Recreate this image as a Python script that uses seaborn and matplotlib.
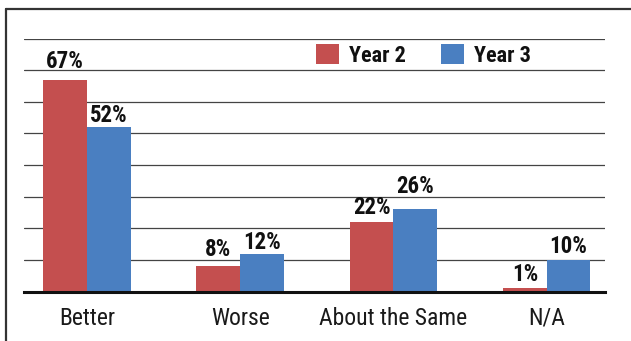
import matplotlib
matplotlib.use("Agg")
import matplotlib.pyplot as plt
from matplotlib.lines import Line2D
import seaborn as sns
import pandas as pd

categories = ["Better", "Worse", "About the Same", "N/A"]
year2 = [67, 8, 22, 1]
year3 = [52, 12, 26, 10]
series = ["Year 2", "Year 3"]
colors = ["#C44F4F", "#4A7FC1"]

# lift (in points) of each value label's baseline above its bar
label_pad = {
    "Year 2": [8.6, 7.2, 5.8, 5.0],
    "Year 3": [3.6, 3.6, 11.5, 5.0],
}

df = pd.DataFrame({
    "category": categories * 2,
    "value": year2 + year3,
    "year": [series[0]] * len(categories) + [series[1]] * len(categories),
})

sns.set_theme(style="white")
plt.rcParams["font.family"] = ["Roboto Condensed", "Archivo Narrow",
                               "Liberation Sans", "DejaVu Sans"]

fig = plt.figure(figsize=(6.31, 3.41), dpi=100)
ax = fig.add_axes([24 / 631, 1 - 291.5 / 341, 581 / 631, 253 / 341])

sns.barplot(data=df, x="category", y="value", hue="year", palette=colors,
            width=0.57, saturation=1, ax=ax, errorbar=None, linewidth=0)

ax.set_ylim(0, 80)
ax.set_xlim(-0.41, 3.38)
ax.set_yticks(range(0, 81, 10))
ax.yaxis.grid(True, color="#444444", linewidth=0.9)
ax.set_axisbelow(True)
for s in ["top", "right", "left"]:
    ax.spines[s].set_visible(False)
ax.spines["bottom"].set_color("#111111")
ax.spines["bottom"].set_linewidth(2.2)
ax.set_yticklabels([])
ax.tick_params(axis="y", length=0)
ax.tick_params(axis="x", length=0, pad=11, labelsize=17, labelcolor="#1a1a1a")
ax.set_xlabel("")
ax.set_ylabel("")

for cont, name in zip(ax.containers, series):
    for rect, val, pad in zip(cont, df.loc[df["year"] == name, "value"], label_pad[name]):
        ax.annotate(f"{val}%", (rect.get_x() + rect.get_width() / 2, rect.get_height()),
                    xytext=(0, pad), textcoords="offset points", ha="center",
                    va="baseline", fontsize=16.5, fontweight="bold", color="#111111",
                    annotation_clip=False)

leg = ax.legend(ncol=2, loc="upper left", bbox_to_anchor=(314 / 631, 1 - 42 / 341),
                bbox_transform=fig.transFigure, frameon=False, fontsize=16,
                handlelength=1.04, handleheight=1.0, handletextpad=0.45,
                columnspacing=1.55, borderaxespad=0, borderpad=0.1)
for t in leg.get_texts():
    t.set_fontweight("bold")
    t.set_color("#111111")

# outer frame (left and top edges)
fig.add_artist(Line2D([6 / 631, 6 / 631], [0, 1 - 9 / 341], transform=fig.transFigure,
                      color="#333333", linewidth=1.6))
fig.add_artist(Line2D([6 / 631, 1], [1 - 9 / 341, 1 - 9 / 341], transform=fig.transFigure,
                      color="#333333", linewidth=1.6))

fig.savefig("out.png", dpi=100)
